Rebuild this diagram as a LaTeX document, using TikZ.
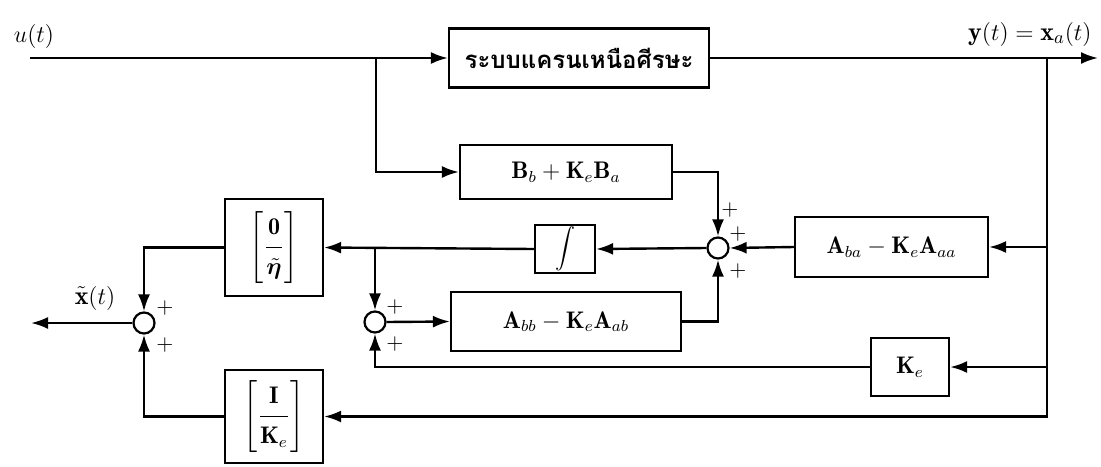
\documentclass[tikz,border=0pt]{standalone}
\usepackage{fontspec}
\usepackage{amsmath,bm}
\usetikzlibrary{arrows.meta}
\newfontfamily\thaifont[Script=Thai]{Loma}

\tikzset{
  blk/.style={draw, line width=1.1pt, inner sep=0pt, font=\fontsize{12}{14}\selectfont},
  sumj/.style={circle, draw, line width=1.1pt, minimum size=10.5pt, inner sep=0pt},
  sig/.style={line width=1.2pt, -{Latex[length=8.5pt,width=6pt]}},
  pl/.style={inner sep=0pt, font=\fontsize{11}{12}\selectfont},
  lbl/.style={inner sep=0pt, font=\fontsize{13}{15}\selectfont}
}

\begin{document}
\begin{tikzpicture}[x=0.5pt, y=-0.5pt]
\useasboundingbox (0,0) rectangle (1101,466);

% blocks
\node[blk, minimum width=130pt, minimum height=29.5pt,
      font=\thaifont\bfseries\fontsize{12}{14}\selectfont] (plant) at (579,58) {ระบบแครนเหนือศีรษะ};
\node[blk, minimum width=106pt, minimum height=27pt] (B) at (566,172)
  {$\mathbf{B}_b + \mathbf{K}_e\mathbf{B}_a$};
\node[blk, minimum width=30pt, minimum height=24pt] (integ) at (565,249)
  {\fontsize{10}{12}\selectfont$\displaystyle\int$};
\node[blk, minimum width=96.5pt, minimum height=30pt] (Aba) at (891.5,247)
  {$\mathbf{A}_{ba} - \mathbf{K}_e\mathbf{A}_{aa}$};
\node[blk, minimum width=115pt, minimum height=29.5pt] (Aab) at (566,321.5)
  {$\mathbf{A}_{bb} - \mathbf{K}_e\mathbf{A}_{ab}$};
\node[blk, minimum width=39pt, minimum height=29pt] (Ke) at (910,367)
  {$\mathbf{K}_e$};
\node[blk, minimum width=49pt, minimum height=48.5pt] (eta) at (274,247.5)
  {$\left[\dfrac{\mathbf{0}\rule[-5pt]{0pt}{16pt}}{\tilde{\bm{\eta}}\rule[-4pt]{0pt}{16pt}}\right]$};
\node[blk, minimum width=49pt, minimum height=46.5pt] (IK) at (274,416.5)
  {$\left[\dfrac{\mathbf{I}\rule[-5pt]{0pt}{16pt}}{\mathbf{K}_e\rule[-4pt]{0pt}{16pt}}\right]$};

% summing junctions
\node[sumj] (s1) at (718,248) {};
\node[sumj] (s2) at (375,322) {};
\node[sumj] (s3) at (144,323) {};

% branch points and free ends
\coordinate (uin) at (30,58);
\coordinate (bu) at (376,58);
\coordinate (yout) at (1098,58);
\coordinate (by) at (1047,58);
\coordinate (bx) at (375,249);
\coordinate (xout) at (31,323);

% signal labels
\node[lbl] at (34,36) {$u(t)$};
\node[lbl, anchor=east] at (1092,34) {$\mathbf{y}(t) = \mathbf{x}_a(t)$};
\node[lbl] at (95,298) {$\tilde{\mathbf{x}}(t)$};

% forward path
\draw[sig] (uin) -- (plant);
\draw[sig] (plant) -- (yout);
\draw[sig] (bu) |- (B.west);

% measured output fed back
\draw[sig] (by) |- (IK.east);
\draw[sig] (by |- Aba.east) -- (Aba.east);
\draw[sig] (by |- Ke.east) -- (Ke.east);

% observer loop
\draw[sig] (B.east) -| (s1.north);
\draw[sig] (Aba.west) -- (s1.east);
\draw[sig] (Aab.east) -| (s1.south);
\draw[sig] (s1.west) -- (integ.east);
\draw[sig] (integ.west) -- (eta.east);
\draw[sig] (bx) -- (s2.north);
\draw[sig] (Ke.west) -| (s2.south);
\draw[sig] (s2.east) -- (Aab.west);

% state estimate
\draw[sig] (eta.west) -| (s3.north);
\draw[sig] (IK.west) -| (s3.south);
\draw[sig] (s3.west) -- (xout);

% signs at the junctions
\node[pl] at ([shift={(12,-38)}]s1.center) {$+$};
\node[pl] at ([shift={(20,-14)}]s1.center) {$+$};
\node[pl] at ([shift={(20,23)}]s1.center) {$+$};
\node[pl] at ([shift={(20,-15)}]s2.center) {$+$};
\node[pl] at ([shift={(20,22)}]s2.center) {$+$};
\node[pl] at ([shift={(21,-15)}]s3.center) {$+$};
\node[pl] at ([shift={(21,22)}]s3.center) {$+$};
\end{tikzpicture}
\end{document}
